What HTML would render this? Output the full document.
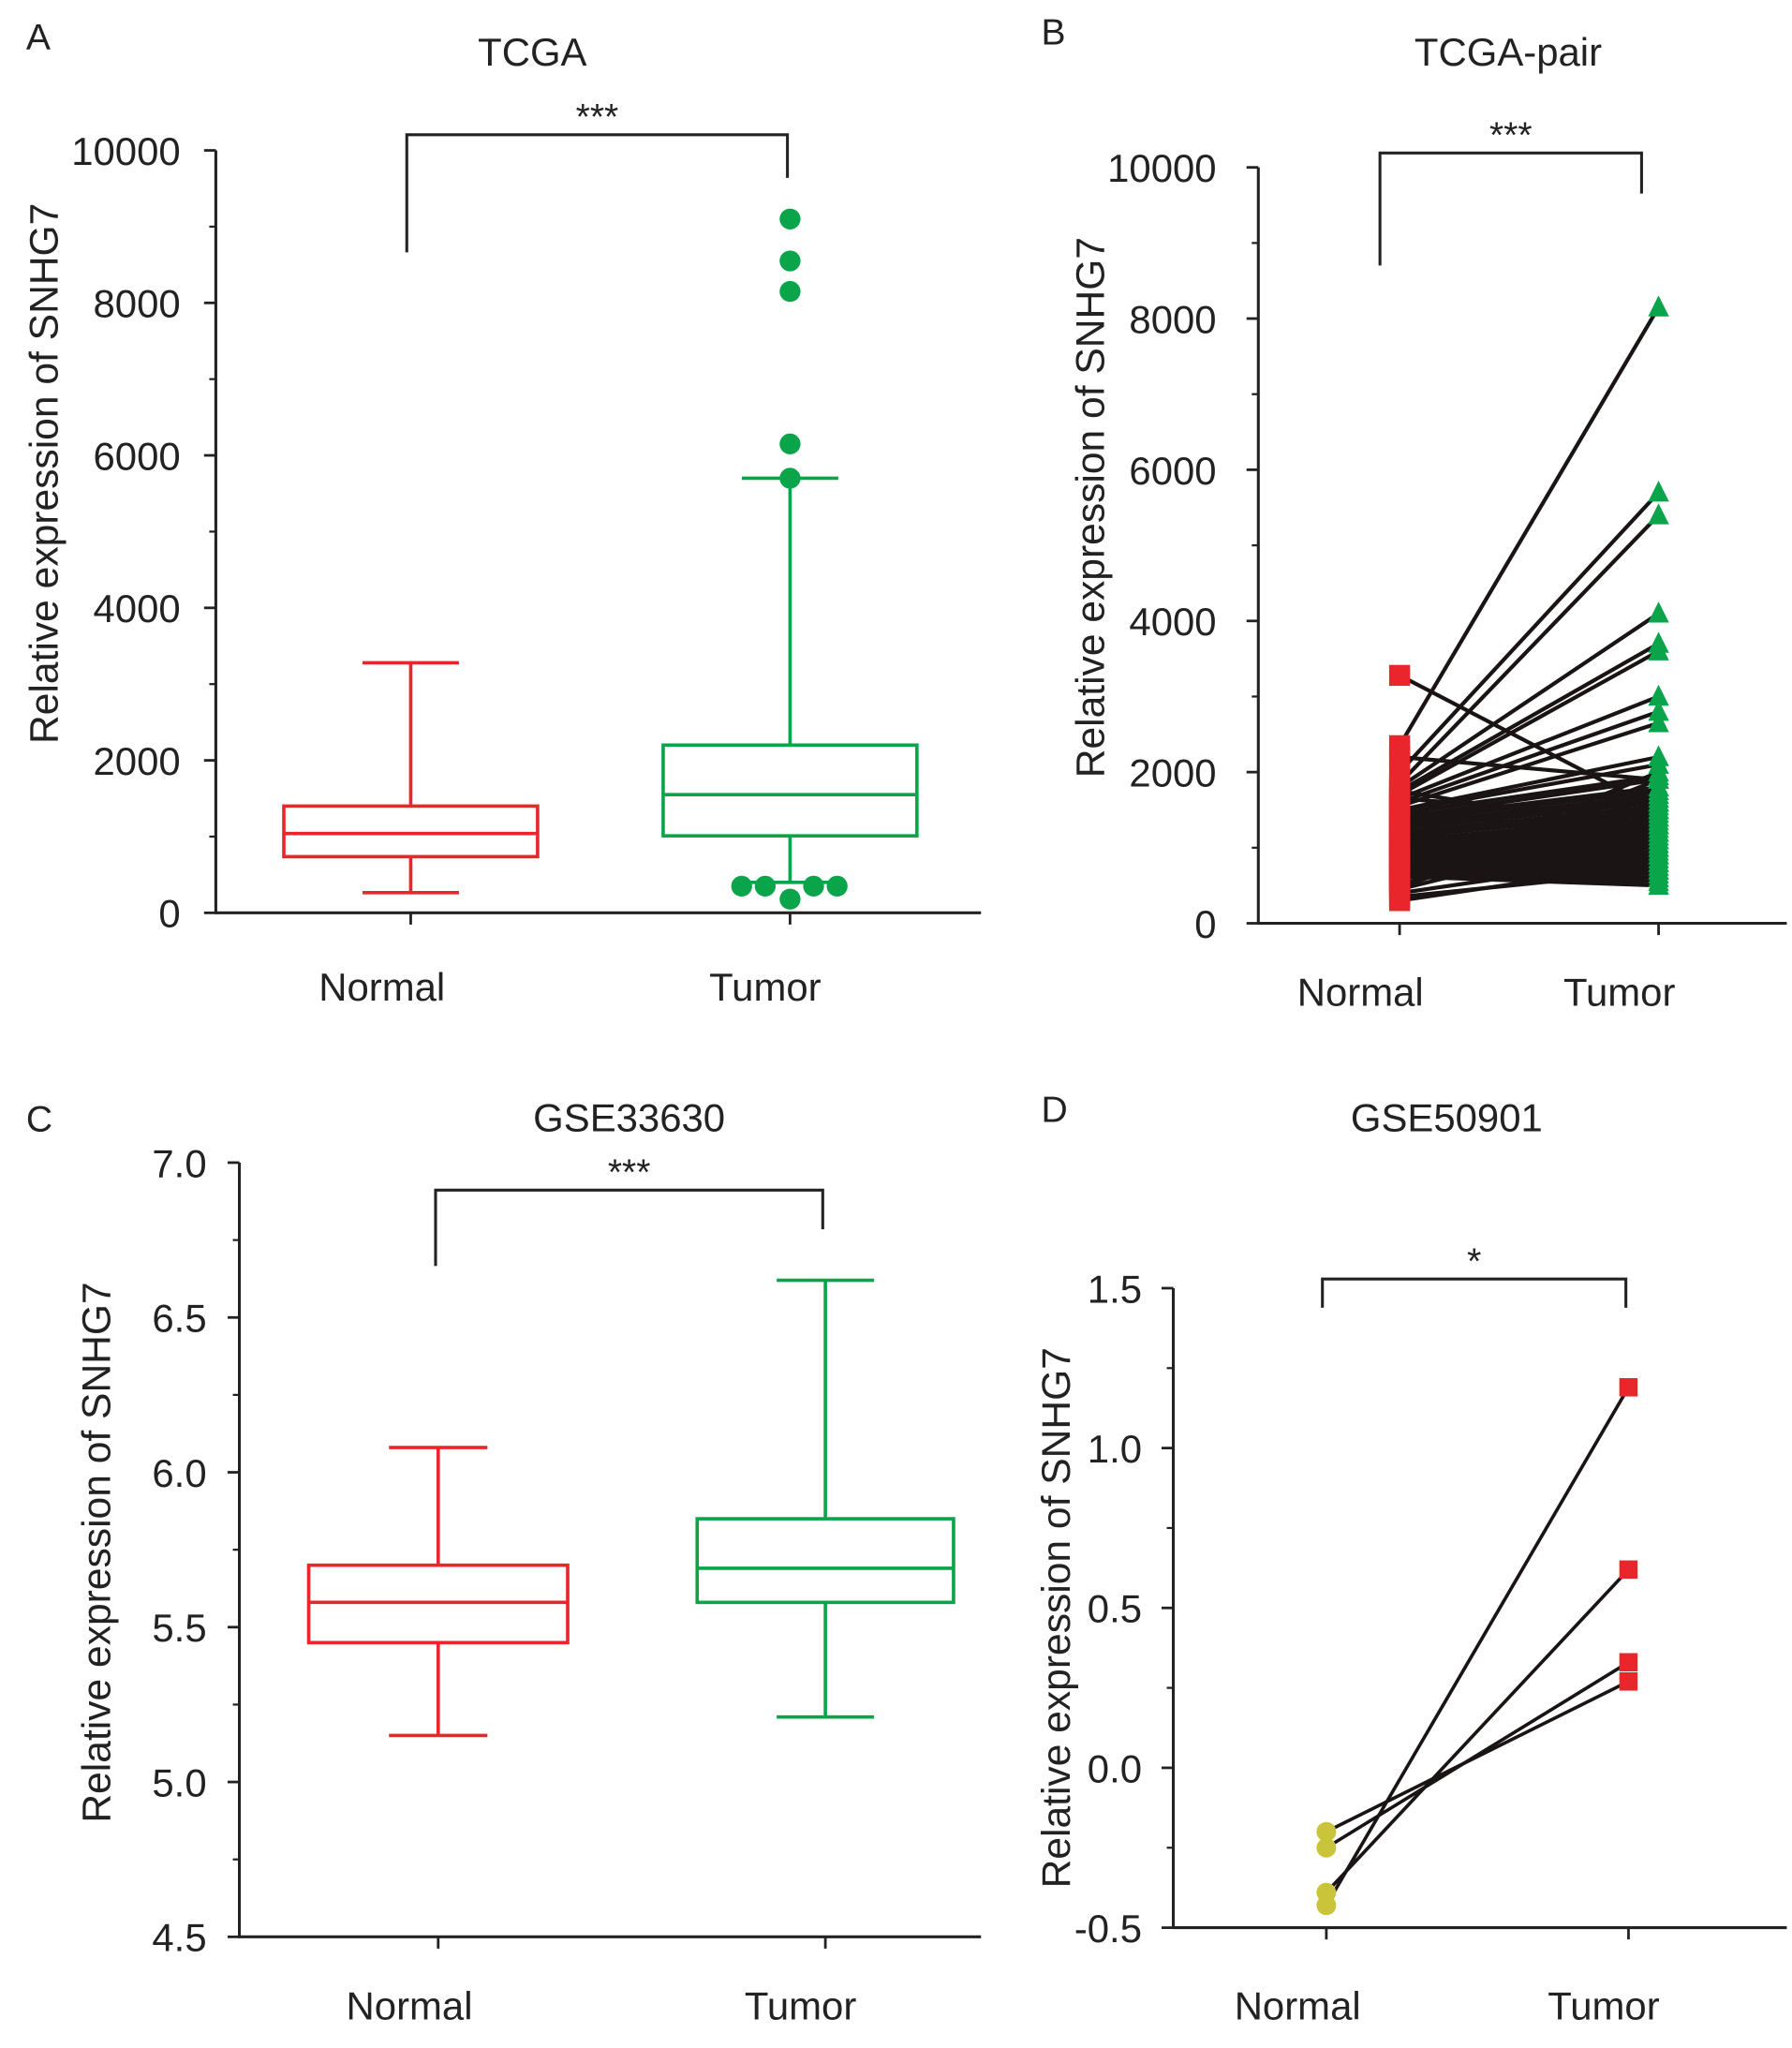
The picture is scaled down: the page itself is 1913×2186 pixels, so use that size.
<!DOCTYPE html>
<html><head><meta charset="utf-8"><style>
html,body{margin:0;padding:0;background:#fff}
svg{display:block}
text{font-family:"Liberation Sans",Arial,sans-serif;fill:#222}
</style></head><body>
<svg id="fig" width="1913" height="2186" viewBox="0 0 1370 1566" preserveAspectRatio="none" xmlns="http://www.w3.org/2000/svg"></svg>
<script>
// Panel A (TCGA) box stats
const aCats = ["Normal","Tumor"];
const aNormal = {min:265, q1:737, med:1040, q3:1400, max:3280};
const aTumor = {min:400, q1:1010, med:1550, q3:2200, max:5700};
const aOutHigh = [9100,8550,8150,6150,5700];
const aOutLow = [350,350,180,350,350];
const aTicks = [0,2000,4000,6000,8000,10000];
// Panel B (TCGA-pair)
const bNormal = [3280,2350,2200,2000,1850,1800,1750,1700,1650,1600,1550,1500,1480,1450,1400,1380,1350,1300,1280,1250,1200,1180,1150,1100,1080,1050,1000,980,950,920,900,880,850,820,800,780,750,720,700,680,650,620,600,580,550,500,480,450,400,350,300,1750,1650,1500,1300,1200,1100,1000,900,800];
const bTumor  = [1500,8150,1900,5700,5400,4100,3700,3600,3000,2800,2650,2200,2100,1950,1900,1800,1750,1700,1650,1600,1550,1500,1450,1400,1350,1300,1250,1200,1150,1100,1050,1000,950,900,850,800,750,700,650,600,550,500,2000,1800,1900,1700,1600,1300,900,700,800,1200,1400,1100,1600,900,1000,1300,1200,1500];
const bTicks = [0,2000,4000,6000,8000,10000];
// Panel C (GSE33630)
const cNormal = {min:5.15, q1:5.45, med:5.58, q3:5.70, max:6.08};
const cTumor = {min:5.21, q1:5.58, med:5.69, q3:5.85, max:6.62};
const cTicks = [4.5,5.0,5.5,6.0,6.5,7.0];
const cTickLabels = ["4.5","5.0","5.5","6.0","6.5","7.0"];
// Panel D (GSE50901)
const dNormal = [-0.20,-0.25,-0.39,-0.43];
const dTumor = [0.27,0.33,0.62,1.19];
const dTicks = [-0.5,0.0,0.5,1.0,1.5];
const dTickLabels = ["-0.5","0.0","0.5","1.0","1.5"];

const svg=document.getElementById('fig');
const NS="http://www.w3.org/2000/svg";
function el(tag,attrs,parent){const e=document.createElementNS(NS,tag);for(const k in attrs)e.setAttribute(k,attrs[k]);(parent||svg).appendChild(e);return e;}
function txt(s,x,y,size,anchor,parent,rot){const t=el('text',{x:x,y:y,'font-size':size,'text-anchor':anchor||'middle'},parent);if(rot)t.setAttribute('transform','rotate(-90 '+x+' '+y+')');t.textContent=s;return t;}
function ln(x1,y1,x2,y2,c,w,parent){return el('line',{x1:x1,y1:y1,x2:x2,y2:y2,stroke:c,'stroke-width':w},parent);}

function panel(o){
  const g=el('g',{});
  
  
  const y=v=>o.y0-(v-o.vmin)/(o.vmax-o.vmin)*(o.y0-o.y1);
  const ax=el('g',{},g);
  
  
  ln(o.ax,o.y1,o.ax,o.y0+1,'#222',2.2,ax);
  ln(o.ax,o.y0,o.xend,o.y0,'#222',2.2,ax);
  o.ticks.forEach((v,i)=>{
    ln(o.ax-9,y(v),o.ax,y(v),'#222',2,ax);
    const t=txt(o.labels?o.labels[i]:String(v),o.lx,y(v)+11,30,'end',ax);
    
    
    if(i<o.ticks.length-1){const m=(v+o.ticks[i+1])/2;ln(o.ax-5,y(m),o.ax,y(m),'#222',1.6,ax);}
  });
  o.xs.forEach((x,i)=>{
    ln(x,o.y0,x,o.y0+9,'#222',2,ax);
    const t=txt(["Normal","Tumor"][i],x+o.xlo[i],o.y0+o.xly,30,'middle',ax);
    
    
  });
  const yl=txt("Relative expression of SNHG7",o.ylx,o.ylc,30.5,'middle',g,true);
  
  
  const ti=txt(o.title,o.tx,o.ty,30,'middle',g);
  
  
  const le=txt(o.letter,o.lex,o.ley,28,'start',g);
  
  
  const br=el('polyline',{points:`${o.br[0]},${o.br[1]} ${o.br[0]},${o.br[2]} ${o.br[3]},${o.br[2]} ${o.br[3]},${o.br[4]}`,fill:'none',stroke:'#222','stroke-width':2.2},g);
  
  
  const st=txt(o.stars,(o.br[0]+o.br[3])/2,o.br[2]-4,28,'middle',g);
  
  
  return {g,y};
}
function box(g,y,s,cx,hw,color,name){
  const b=el('g',{},g);
  
  
  const cap=hw*0.38;
  ln(cx,y(s.max),cx,y(s.q3),color,2.6,b);
  ln(cx,y(s.q1),cx,y(s.min),color,2.6,b);
  ln(cx-cap,y(s.max),cx+cap,y(s.max),color,2.6,b);
  ln(cx-cap,y(s.min),cx+cap,y(s.min),color,2.6,b);
  el('rect',{x:cx-hw,y:y(s.q3),width:2*hw,height:y(s.q1)-y(s.q3),fill:'none',stroke:color,'stroke-width':2.6},b);
  ln(cx-hw,y(s.med),cx+hw,y(s.med),color,2.6,b);
}

// Panel A
let A=panel({name:'panel-a-tcga',ax:165,y0:698,y1:115,vmin:0,vmax:10000,xend:750,ticks:aTicks,lx:138,xs:[314,604],xlo:[-22,-19],xly:67,ylx:44,ylc:362,title:'TCGA',tx:407,ty:50,letter:'A',lex:20,ley:38,br:[311,193,103,602,136],stars:'***'});
box(A.g,A.y,aNormal,314,97,'#e8262b','box-normal');
box(A.g,A.y,aTumor,604,97,'#0aa54a','box-tumor');
const aOutX=[604,604,604,604,604];
aOutHigh.forEach((v,i)=>{const c=el('circle',{cx:aOutX[i],cy:A.y(v),r:8,fill:'#0aa54a'},A.g);

});
const aLowX=[567,585,604,622,640];
aOutLow.forEach((v,i)=>{const c=el('circle',{cx:aLowX[i],cy:A.y(v),r:8,fill:'#0aa54a'},A.g);

});

// Panel B
let B=panel({name:'panel-b-tcga-pair',ax:962,y0:706,y1:128,vmin:0,vmax:10000,xend:1366,ticks:bTicks,lx:930,xs:[1070,1268],xlo:[-30,-30],xly:63,ylx:844,ylc:388,title:'TCGA-pair',tx:1153,ty:50,letter:'B',lex:796,ley:34,br:[1055,203,117,1255,148],stars:'***'});
bNormal.forEach((v,i)=>{const l=ln(1070,B.y(v),1268,B.y(bTumor[i]),'#1a1414',3,B.g);

});
bNormal.forEach(v=>{const r=el('rect',{x:1062,y:B.y(v)-8,width:16,height:16,fill:'#e8262b'},B.g);

});
bTumor.forEach(v=>{const yy=B.y(v);const p=el('polygon',{points:`${1268},${yy-9} ${1260},${yy+7} ${1276},${yy+7}`,fill:'#0aa54a'},B.g);

});

// Panel C
let C=panel({name:'panel-c-gse33630',ax:183,y0:1481,y1:889,vmin:4.5,vmax:7.0,xend:750,ticks:cTicks,labels:cTickLabels,lx:158,xs:[335,631],xlo:[-22,-19],xly:63,ylx:84,ylc:1187,title:'GSE33630',tx:481,ty:865,letter:'C',lex:20,ley:865,br:[333,968,910,629,940],stars:'***'});
box(C.g,C.y,cNormal,335,99,'#e8262b','box-normal');
box(C.g,C.y,cTumor,631,98,'#0aa54a','box-tumor');

// Panel D
let D=panel({name:'panel-d-gse50901',ax:897,y0:1474,y1:985,vmin:-0.5,vmax:1.5,xend:1366,ticks:dTicks,labels:dTickLabels,lx:873,xs:[1014,1245],xlo:[-22,-19],xly:70,ylx:818,ylc:1237,title:'GSE50901',tx:1106,ty:865,letter:'D',lex:796,ley:858,br:[1011,1000,978,1243,1000],stars:'*'});
dNormal.forEach((v,i)=>{const l=ln(1014,D.y(v),1245,D.y(dTumor[i]),'#1a1414',2.6,D.g);

});
dNormal.forEach(v=>{const c=el('circle',{cx:1014,cy:D.y(v),r:7.5,fill:'#c9c43a'},D.g);

});
dTumor.forEach(v=>{const r=el('rect',{x:1238,y:D.y(v)-7,width:14,height:14,fill:'#e8262b'},D.g);

});
</script>
</body></html>
